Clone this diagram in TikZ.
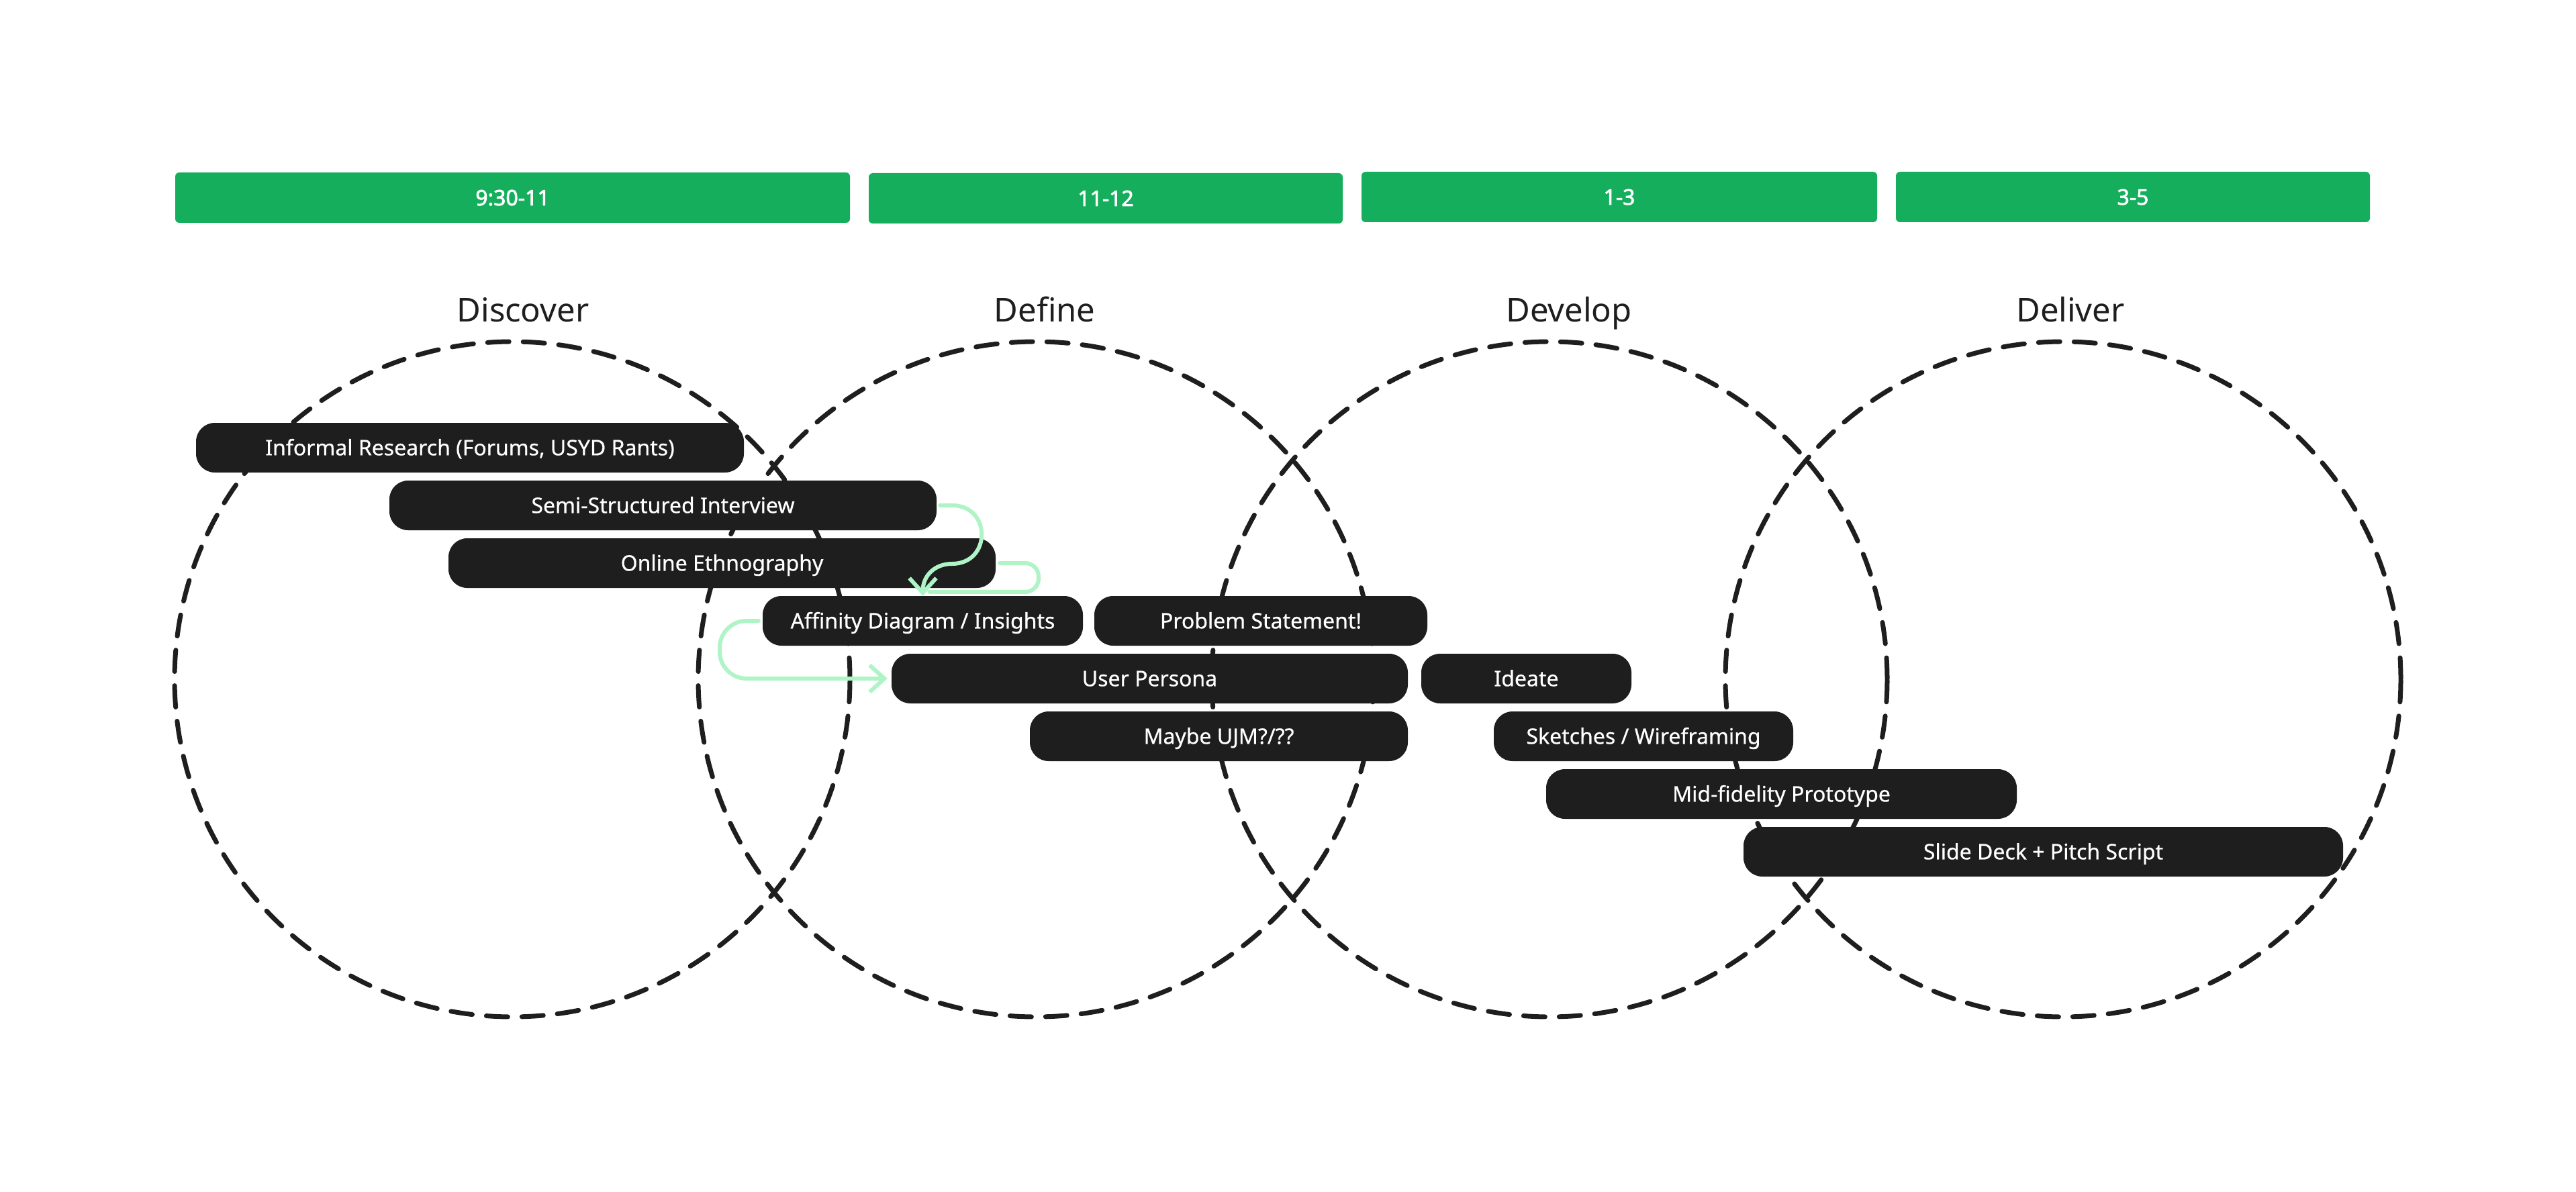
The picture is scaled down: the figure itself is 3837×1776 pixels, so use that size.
\documentclass[tikz,border=0pt]{standalone}
\usepackage{fontspec}
\setmainfont{Noto Sans}
\newfontfamily\barfont{Noto Sans}[FakeBold=2.2]
\newfontfamily\taskfont{Noto Sans}[FakeBold=0.6]
\usetikzlibrary{arrows.meta}
\definecolor{barGreen}{HTML}{14AE5C}
\definecolor{ink}{HTML}{1E1E1E}
\definecolor{mint}{HTML}{AFF4C6}
\begin{document}
\begin{tikzpicture}[x=1pt,y=-1pt,
  phasering/.style={draw=ink, line width=7pt, dash pattern=on 32pt off 21pt, line cap=round, circle, minimum size=1006pt, inner sep=0pt},
  timebar/.style={fill=barGreen, rounded corners=6pt, minimum height=75pt, inner sep=0pt, text=white, font=\barfont\fontsize{32}{38}\selectfont, text height=23pt, text depth=0pt},
  task/.style={fill=ink, rounded corners=28pt, minimum height=74pt, inner sep=0pt, text=white, font=\taskfont\fontsize{32}{38}\selectfont, text height=22.8pt, text depth=0pt},
  phaselabel/.style={text=ink, font=\fontsize{49}{58}\selectfont, inner sep=0pt, anchor=base},
  flowline/.style={draw=mint, line width=6pt, line cap=round, line join=round},
  flow/.style={flowline, -{Straight Barb[length=22pt,width=40pt]}},
]
\fill[white] (0,0) rectangle (3837,1776);
\useasboundingbox (0,0) rectangle (3837,1776);

% time bars
\node[timebar, minimum width=1005pt] (bar1) at (763.5,294.5) {9:30-11};
\node[timebar, minimum width=706pt] (bar2) at (1647,295.5) {11-12};
\node[timebar, minimum width=768pt] (bar3) at (2412,293.5) {1-3};
\node[timebar, minimum width=706pt] (bar4) at (3177,293.5) {3-5};

% phase labels
\node[phaselabel] (lDiscover) at (779,479) {Discover};
\node[phaselabel] (lDefine) at (1556,479) {Define};
\node[phaselabel] (lDevelop) at (2337,479) {Develop};
\node[phaselabel] (lDeliver) at (3084,479) {Deliver};

% dashed circles
\node[phasering] (discover) at (763,1012) {};
\node[phasering] (define) at (1543,1012) {};
\node[phasering] (develop) at (2308,1012) {};
\node[phasering] (deliver) at (3073,1012) {};

% tasks
\node[task, minimum width=816pt] (informal) at (700,667) {Informal Research (Forums, USYD Rants)};
\node[task, minimum width=815pt] (semi) at (987.5,753) {Semi-Structured Interview};
\node[task, minimum width=815pt] (online) at (1075.5,839) {Online Ethnography};
\node[task, minimum width=477pt] (affinity) at (1374.5,925) {Affinity Diagram / Insights};
\node[task, minimum width=496pt] (problem) at (1878,925) {Problem Statement!};
\node[task, minimum width=769pt] (persona) at (1712.5,1011) {User Persona};
\node[task, minimum width=313pt] (ideate) at (2273.5,1011) {Ideate};
\node[task, minimum width=563pt] (ujm) at (1815.5,1097) {Maybe UJM?/??};
\node[task, minimum width=446pt] (sketch) at (2448,1097) {Sketches / Wireframing};
\node[task, minimum width=701pt] (midfi) at (2653.5,1183) {Mid-fidelity Prototype};
\node[task, minimum width=893pt] (slides) at (3043.5,1269) {Slide Deck + Pitch Script};

% flows
\draw[flowline, rounded corners=20pt] ([xshift=6pt]online.east) -- (1547,839) -- (1547,882) -- ([xshift=10pt,yshift=6pt]affinity.north);
\draw[flow] ([xshift=5pt]semi.east) -- (1418,753) .. controls (1477,753) and (1477,840) .. (1418,840) .. controls (1392,840) and (1374.5,858) .. (affinity.north);
\draw[flow, rounded corners=40pt] ([xshift=-6pt]affinity.west) -- (1072,925) -- (1072,1011) -- ([xshift=-6pt]persona.west);
\end{tikzpicture}
\end{document}
